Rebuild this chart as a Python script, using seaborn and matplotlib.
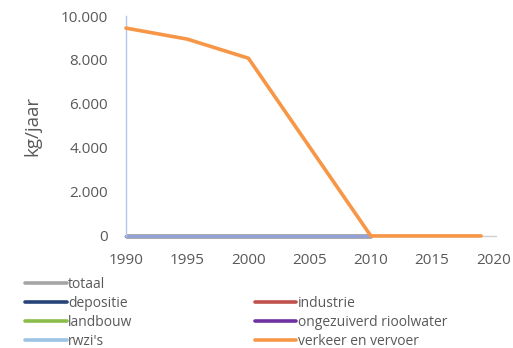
import matplotlib
matplotlib.use("Agg")
import matplotlib.pyplot as plt
from matplotlib.lines import Line2D
import seaborn as sns
import pandas as pd

# Emissions per source (kg/jaar)
years_zero = [1990, 1995, 2000, 2005, 2010]
totaal = [0, 0, 0, 0, 0]
depositie = [0, 0, 0, 0, 0]
industrie = [0, 0, 0, 0, 0]
landbouw = [0, 0, 0, 0, 0]
ongezuiverd = [0, 0, 0, 0, 0]
rwzis = [0, 0, 0, 0, 0]

years_verkeer = [1990, 1995, 2000, 2010, 2019]
verkeer = [9450, 8950, 8080, 0, 0]

x_ticks = [1990, 1995, 2000, 2005, 2010, 2015, 2020]
y_ticks = [0, 2000, 4000, 6000, 8000, 10000]
y_tick_labels = ["0", "2.000", "4.000", "6.000", "8.000", "10.000"]

colors = {
    "totaal": "#A5A5A5",
    "depositie": "#264478",
    "industrie": "#C0504D",
    "landbouw": "#8CBD4A",
    "ongezuiverd rioolwater": "#7030A0",
    "rwzi's": "#9DC3E6",
    "verkeer en vervoer": "#F79646",
}

sns.set_theme(style="white")
plt.rcParams["font.family"] = ["Open Sans", "DejaVu Sans"]
text_color = "#595959"

fig = plt.figure(figsize=(5.13, 3.48), dpi=100)
ax = fig.add_axes([0.2456, 0.322, 0.716, 0.632])

# thin grey category axis underneath the series
ax.plot([1990, 2020.2], [0, 0], color="#D0D0D0", lw=1.0, zorder=1, clip_on=False)

zero_series = [
    ("totaal", totaal),
    ("depositie", depositie),
    ("industrie", industrie),
    ("landbouw", landbouw),
    ("ongezuiverd rioolwater", ongezuiverd),
    ("rwzi's", rwzis),
]
for name, vals in zero_series:
    df = pd.DataFrame({"jaar": years_zero, "waarde": vals})
    sns.lineplot(data=df, x="jaar", y="waarde", ax=ax, color=colors[name],
                 lw=2.4, alpha=0.78 if name == "rwzi's" else 1.0,
                 zorder=2, clip_on=False)

df_v = pd.DataFrame({"jaar": years_verkeer, "waarde": verkeer})
sns.lineplot(data=df_v, x="jaar", y="waarde", ax=ax,
             color=colors["verkeer en vervoer"], lw=2.6, zorder=3, clip_on=False)

ax.set_xlim(1990, 2020)
ax.set_ylim(0, 10000)
ax.set_xticks(x_ticks)
ax.set_xticklabels([str(t) for t in x_ticks])
ax.set_yticks(y_ticks)
ax.set_yticklabels(y_tick_labels)
ax.tick_params(axis="both", length=0, labelsize=11, colors=text_color)
ax.tick_params(axis="y", pad=13)
ax.tick_params(axis="x", pad=12)
ax.set_xlabel("")
ax.set_ylabel("kg/jaar", fontsize=13.5, color=text_color, labelpad=14)

for side in ["top", "right", "bottom"]:
    ax.spines[side].set_visible(False)
ax.spines["left"].set_color("#B4C7E7")
ax.spines["left"].set_linewidth(1.0)

# legend: totaal alone on the first row, then two columns
def handle(c):
    return Line2D([0], [0], color=c, lw=2.6)

blank = Line2D([0], [0], color="none")
handles = [handle(colors["totaal"]), handle(colors["depositie"]),
           handle(colors["landbouw"]), handle(colors["rwzi's"]),
           blank, handle(colors["industrie"]),
           handle(colors["ongezuiverd rioolwater"]), handle(colors["verkeer en vervoer"])]
labels = ["totaal", "depositie", "landbouw", "rwzi's",
          "", "industrie", "ongezuiverd rioolwater", "verkeer en vervoer"]
leg = fig.legend(handles, labels, ncol=2, loc="upper left",
                 bbox_to_anchor=(0.035, 0.225), frameon=False,
                 fontsize=10, handlelength=3.0, handletextpad=0.1,
                 columnspacing=8.8, labelspacing=0.3, borderpad=0)
for t in leg.get_texts():
    t.set_color(text_color)

fig.savefig("out.png", dpi=100)
